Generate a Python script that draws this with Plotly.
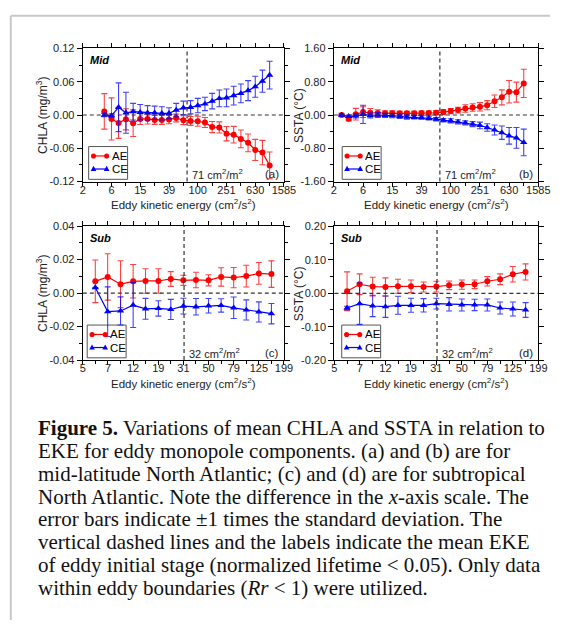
import math
import plotly.graph_objects as go

# ---------------- data ----------------
# (a) mid-latitude CHLA
eke_a = [5.0, 6.3, 7.9, 10.0, 12.6, 15.8, 20.0, 25.1, 31.6, 39.8, 50.1, 63.1, 79.4, 100.0,
         125.9, 158.5, 199.5, 251.2, 316.2, 398.1, 501.2, 631.0, 794.3, 1000.0]
chla_mid_ae = [0.0065, -0.0071, -0.0142, -0.0077, -0.0147, -0.0071, -0.0071, -0.0088, -0.0088, -0.0083,
               -0.0053, -0.0094, -0.0106, -0.0112, -0.0135, -0.0218, -0.0224, -0.0336, -0.0354, -0.0431,
               -0.0501, -0.0630, -0.0678, -0.0908]
chla_mid_ae_sd = [0.032, 0.038, 0.028, 0.019, 0.024, 0.010, 0.009, 0.008, 0.008, 0.0075, 0.007, 0.008,
                  0.008, 0.009, 0.009, 0.010, 0.010, 0.013, 0.015, 0.016, 0.016, 0.019, 0.022, 0.024]
chla_mid_ce = [0.000, -0.001, 0.014, 0.004, 0.006, 0.005, 0.004, 0.004, 0.003, 0.003, 0.009, 0.013,
               0.014, 0.017, 0.020, 0.025, 0.030, 0.031, 0.035, 0.039, 0.044, 0.051, 0.061, 0.072]
chla_mid_ce_sd = [0.003, 0.003, 0.044, 0.037, 0.015, 0.014, 0.013, 0.012, 0.012, 0.010, 0.012, 0.012,
                  0.012, 0.013, 0.012, 0.014, 0.015, 0.016, 0.017, 0.017, 0.018, 0.019, 0.020, 0.025]

# (b) mid-latitude SSTA
eke_b = [3.2, 4.0, 5.0, 6.3, 7.9, 10.0, 12.6, 15.8, 20.0, 25.1, 31.6, 39.8, 50.1, 63.1, 79.4, 100.0,
         125.9, 158.5, 199.5, 251.2, 316.2, 398.1, 501.2, 631.0, 794.3, 1000.0]
ssta_mid_ae = [0.00, -0.09, 0.02, 0.07, 0.055, 0.047, 0.04, 0.04, 0.04, 0.04, 0.04, 0.047, 0.047,
               0.055, 0.07, 0.094, 0.118, 0.157, 0.18, 0.197, 0.236, 0.33, 0.425, 0.56, 0.55, 0.76]
ssta_mid_ae_sd = [0.03, 0.05, 0.14, 0.13, 0.10, 0.08, 0.06, 0.06, 0.05, 0.05, 0.05, 0.05, 0.05,
                  0.05, 0.06, 0.06, 0.07, 0.09, 0.09, 0.10, 0.11, 0.15, 0.18, 0.27, 0.24, 0.34]
ssta_mid_ce = [0.0, -0.03, -0.02, 0.015, -0.01, 0.0, -0.01, -0.015, -0.03, -0.05, -0.055, -0.06, -0.08,
               -0.10, -0.125, -0.14, -0.165, -0.19, -0.22, -0.25, -0.30, -0.36, -0.425, -0.50, -0.55, -0.66]
ssta_mid_ce_sd = [0.02, 0.03, 0.05, 0.22, 0.06, 0.06, 0.05, 0.05, 0.05, 0.05, 0.04, 0.04, 0.04,
                  0.04, 0.04, 0.05, 0.05, 0.05, 0.06, 0.08, 0.09, 0.12, 0.16, 0.20, 0.25, 0.32]

# (c) subtropical CHLA and (d) subtropical SSTA
eke_sub = [6.3, 7.9, 10.0, 12.6, 15.8, 20.0, 25.1, 31.6, 39.8, 50.1, 63.1, 79.4, 100.0, 125.9, 158.5]
chla_sub_ae = [0.0070, 0.0096, 0.0053, 0.0070, 0.0072, 0.0072, 0.0084, 0.0076, 0.0078, 0.0076,
               0.0096, 0.0092, 0.0101, 0.0117, 0.0113]
chla_sub_ae_sd = [0.0127, 0.0138, 0.014, 0.010, 0.0073, 0.0073, 0.0044, 0.003, 0.0046, 0.0033,
                  0.0055, 0.006, 0.0065, 0.0065, 0.0079]
chla_sub_ce = [0.0033, -0.0111, -0.0107, -0.0072, -0.0094, -0.0092, -0.0098, -0.0078, -0.0082,
               -0.0076, -0.0074, -0.0088, -0.0101, -0.0113, -0.0123]
chla_sub_ce_sd = [0.0, 0.0148, 0.0084, 0.0134, 0.0062, 0.0046, 0.006, 0.0047, 0.0049, 0.0043,
                  0.004, 0.0064, 0.006, 0.006, 0.0061]
ssta_sub_ae = [0.006, 0.027, 0.020, 0.019, 0.021, 0.021, 0.019, 0.020, 0.024, 0.026, 0.027, 0.036,
               0.042, 0.057, 0.064]
ssta_sub_ae_sd = [0.058, 0.031, 0.028, 0.027, 0.021, 0.019, 0.015, 0.016, 0.013, 0.014, 0.013, 0.014,
                  0.016, 0.023, 0.024]
ssta_sub_ce = [-0.044, -0.031, -0.038, -0.040, -0.036, -0.036, -0.036, -0.031, -0.033, -0.035, -0.035,
               -0.035, -0.044, -0.047, -0.050]
ssta_sub_ce_sd = [0.005, 0.062, 0.032, 0.032, 0.027, 0.021, 0.020, 0.016, 0.020, 0.018, 0.017, 0.018,
                  0.018, 0.021, 0.022]

mean_eke_initial = [71, 32]
series_names = ["AE", "CE"]

# tick labels
mid_tick_text = ["2", "6", "15", "39", "100", "251", "630", "1585"]
sub_tick_text = ["5", "7", "12", "19", "31", "50", "79", "125", "199"]
chla_mid_ticks = ["-0.12", "-0.06", "0.00", "0.06", "0.12"]
ssta_mid_ticks = ["-1.60", "-0.80", "0.00", "0.80", "1.60"]
chla_sub_ticks = ["-0.04", "-0.02", "0.00", "0.02", "0.04"]
ssta_sub_ticks = ["-0.20", "-0.10", "0.00", "0.10", "0.20"]

# ---------------- layout helpers ----------------
W, H = 562, 626
SANS = "Liberation Sans, Arial, sans-serif"
SERIF = "Liberation Serif, Times New Roman, serif"
RED = "#ff0000"
BLUE = "#0000ff"
TXT = "#222222"


def px(x):
    return x / W


def py(y):
    return 1 - y / H


def xaxis(x0, x1, y_anchor, log_lo, log_hi, step, labels):
    n = len(labels)
    vals = [10 ** (log_lo + i * step) for i in range(n)]
    minor = [10 ** (log_lo + (i + 0.5) * step) for i in range(n - 1)]
    return dict(domain=[px(x0), px(x1)], type="log", range=[log_lo, log_hi], anchor=y_anchor,
                tickmode="array", tickvals=vals, ticktext=labels,
                ticks="outside", ticklen=4, tickwidth=1, tickcolor="black",
                showline=True, linecolor="black", linewidth=1.3, mirror="allticks",
                showgrid=False, zeroline=False, ticklabelstandoff=-6,
                minor=dict(tickvals=minor, ticks="outside", ticklen=3, tickwidth=1,
                           tickcolor="black", showgrid=False),
                tickfont=dict(family=SANS, size=11, color=TXT))


def yaxis(y0, y1, x_anchor, lim, labels):
    vals = [-lim, -lim / 2, 0, lim / 2, lim]
    minor = [-3 * lim / 4, -lim / 4, lim / 4, 3 * lim / 4]
    return dict(domain=[py(y1), py(y0)], range=[-lim, lim], anchor=x_anchor,
                tickmode="array", tickvals=vals, ticktext=labels,
                ticks="outside", ticklen=5, tickwidth=1, tickcolor="black",
                showline=True, linecolor="black", linewidth=1.3, mirror="allticks",
                showgrid=False, zeroline=False,
                minor=dict(tickvals=minor, ticks="outside", ticklen=3, tickwidth=1,
                           tickcolor="black", showgrid=False),
                tickfont=dict(family=SANS, size=11, color=TXT))


panels = [
    dict(x="x", y="y", x0=82, x1=288.7, y0=43.3, y1=179, xlo=0.4, xhi=3.2, step=0.4, xt=mid_tick_text,
         eke=eke_a, ae=chla_mid_ae, ae_sd=chla_mid_ae_sd, ce=chla_mid_ce, ce_sd=chla_mid_ce_sd,
         lim=0.12, yt=chla_mid_ticks, ytitle="CHLA (mg/m<sup>3</sup>)", region="Mid", tag="(a)",
         mean=mean_eke_initial[0], ytx=40, legx=88),
    dict(x="x2", y="y2", x0=340, x1=550, y0=43.3, y1=179, xlo=0.4, xhi=3.2, step=0.4, xt=mid_tick_text,
         eke=eke_b, ae=ssta_mid_ae, ae_sd=ssta_mid_ae_sd, ce=ssta_mid_ce, ce_sd=ssta_mid_ce_sd,
         lim=1.6, yt=ssta_mid_ticks, ytitle="SSTA (°C)", region="Mid", tag="(b)",
         mean=mean_eke_initial[0], ytx=304, legx=348.5),
    dict(x="x3", y="y3", x0=82, x1=288.7, y0=224.3, y1=361, xlo=0.7, xhi=2.3, step=0.2, xt=sub_tick_text,
         eke=eke_sub, ae=chla_sub_ae, ae_sd=chla_sub_ae_sd, ce=chla_sub_ce, ce_sd=chla_sub_ce_sd,
         lim=0.04, yt=chla_sub_ticks, ytitle="CHLA (mg/m<sup>3</sup>)", region="Sub", tag="(c)",
         mean=mean_eke_initial[1], ytx=40, legx=86.5),
    dict(x="x4", y="y4", x0=340.5, x1=550, y0=224.8, y1=361, xlo=0.7, xhi=2.3, step=0.2, xt=sub_tick_text,
         eke=eke_sub, ae=ssta_sub_ae, ae_sd=ssta_sub_ae_sd, ce=ssta_sub_ce, ce_sd=ssta_sub_ce_sd,
         lim=0.2, yt=ssta_sub_ticks, ytitle="SSTA (°C)", region="Sub", tag="(d)",
         mean=mean_eke_initial[1], ytx=304, legx=348),
]

fig = go.Figure()
layout = dict(width=W, height=H, margin=dict(l=0, r=0, t=0, b=0), autosize=False,
              paper_bgcolor="white", plot_bgcolor="white", showlegend=False)
annotations = []
shapes = []

for p in panels:
    xname = "xaxis" if p["x"] == "x" else "xaxis" + p["x"][1:]
    yname = "yaxis" if p["y"] == "y" else "yaxis" + p["y"][1:]
    layout[xname] = xaxis(p["x0"], p["x1"], p["y"], p["xlo"], p["xhi"], p["step"], p["xt"])
    layout[yname] = yaxis(p["y0"], p["y1"], p["x"], p["lim"], p["yt"])

    fig.add_trace(go.Scatter(
        x=p["eke"], y=p["ae"], xaxis=p["x"], yaxis=p["y"], name=series_names[0],
        mode="lines+markers", line=dict(color=RED, width=1.2),
        marker=dict(symbol="circle", size=6, color=RED),
        error_y=dict(type="data", array=p["ae_sd"], color="rgba(255,0,0,0.75)", thickness=1.1, width=3)))
    fig.add_trace(go.Scatter(
        x=p["eke"], y=p["ce"], xaxis=p["x"], yaxis=p["y"], name=series_names[1],
        mode="lines+markers", line=dict(color=BLUE, width=1.2),
        marker=dict(symbol="triangle-up", size=6.5, color=BLUE),
        error_y=dict(type="data", array=p["ce_sd"], color="rgba(0,0,255,0.75)", thickness=1.1, width=3)))

    # reference lines
    shapes.append(dict(type="line", xref=p["x"] + " domain", yref=p["y"], x0=0, x1=1, y0=0, y1=0,
                       line=dict(color="#333", width=1.2, dash="4px,3px"), layer="above"))
    shapes.append(dict(type="line", xref=p["x"], yref=p["y"] + " domain", x0=p["mean"], x1=p["mean"],
                       y0=0, y1=1, line=dict(color="#333", width=1.2, dash="4px,3px"), layer="above"))

    # legend key (box, sample lines with end markers, labels)
    lx0, lx1 = p["legx"], p["legx"] + 40
    ly1 = p["y1"] - 2.3
    ly0 = ly1 - 33.4
    shapes.append(dict(type="rect", xref="paper", yref="paper", x0=px(lx0), x1=px(lx1), y0=py(ly1),
                       y1=py(ly0), line=dict(color="#555", width=1), fillcolor="white", layer="below"))
    for j, (nm, col) in enumerate(zip(series_names, [RED, BLUE])):
        yc = ly0 + 9.6 + 13.3 * j
        ma, mb = lx0 + 5.0, lx0 + 18.5
        shapes.append(dict(type="line", xref="paper", yref="paper", x0=px(ma), x1=px(mb),
                           y0=py(yc), y1=py(yc), line=dict(color=col, width=1.2)))
        for mx in (ma, mb):
            if j == 0:
                shapes.append(dict(type="circle", xref="paper", yref="paper",
                                   x0=px(mx - 2.6), x1=px(mx + 2.6), y0=py(yc + 2.6), y1=py(yc - 2.6),
                                   fillcolor=col, line=dict(color=col, width=0)))
            else:
                path = "M {:.5f},{:.5f} L {:.5f},{:.5f} L {:.5f},{:.5f} Z".format(
                    px(mx), py(yc - 3.2), px(mx - 2.9), py(yc + 2.1), px(mx + 2.9), py(yc + 2.1))
                shapes.append(dict(type="path", xref="paper", yref="paper", path=path,
                                   fillcolor=col, line=dict(color=col, width=0)))
        annotations.append(dict(xref="paper", yref="paper", x=px(lx0 + 21.5), y=py(yc), text=nm,
                                showarrow=False, xanchor="left", yanchor="middle",
                                font=dict(family=SANS, size=11.5, color="black")))

    # texts
    ymid = (p["y0"] + p["y1"]) / 2
    xmid = (p["x0"] + p["x1"]) / 2
    annotations.append(dict(xref="paper", yref="paper", x=px(p["ytx"]), y=py(ymid), text=p["ytitle"],
                            textangle=-90, showarrow=False, xanchor="center", yanchor="middle",
                            font=dict(family=SANS, size=12, color=TXT)))
    annotations.append(dict(xref="paper", yref="paper", x=px(xmid), y=py(p["y1"] + 23),
                            text="Eddy kinetic energy (cm<sup>2</sup>/s<sup>2</sup>)",
                            showarrow=False, xanchor="center", yanchor="middle",
                            font=dict(family=SANS, size=11.5, color=TXT)))
    annotations.append(dict(xref="paper", yref="paper", x=px(p["x0"] + 5), y=py(p["y0"] + 12),
                            text="<b><i>" + p["region"] + "</i></b>", showarrow=False,
                            xanchor="left", yanchor="middle",
                            font=dict(family=SANS, size=11, color="black")))
    annotations.append(dict(xref="paper", yref="paper", x=px(p["x1"] - 3), y=py(p["y1"] - 7.5),
                            text=p["tag"], showarrow=False, xanchor="right", yanchor="middle",
                            font=dict(family=SANS, size=11.5, color=TXT)))
    annotations.append(dict(xref=p["x"], yref="paper", x=math.log10(p["mean"]), y=py(p["y1"] - 7.5),
                            text=f"{p['mean']} cm<sup>2</sup>/m<sup>2</sup>", showarrow=False,
                            xanchor="left", yanchor="middle", xshift=3,
                            font=dict(family=SANS, size=11, color=TXT)))

# caption
caption = [
    "<b>Figure 5.</b> Variations of mean CHLA and SSTA in relation to",
    "EKE for eddy monopole components. (a) and (b) are for",
    "mid-latitude North Atlantic; (c) and (d) are for subtropical",
    "North Atlantic. Note the difference in the <i>x</i>-axis scale. The",
    "error bars indicate ±1 times the standard deviation. The",
    "vertical dashed lines and the labels indicate the mean EKE",
    "of eddy initial stage (normalized lifetime &lt; 0.05). Only data",
    "within eddy boundaries (<i>Rr</i> &lt; 1) were utilized.",
]
for k, line in enumerate(caption):
    annotations.append(dict(xref="paper", yref="paper", x=px(34), y=py(430.5 + 23.2 * k), text=line,
                            showarrow=False, xanchor="left", yanchor="middle",
                            font=dict(family=SERIF, size=21, color="#111")))

# page border
shapes.append(dict(type="line", xref="paper", yref="paper", x0=px(8), x1=px(8), y0=0, y1=py(10),
                   line=dict(color="#c8c8c8", width=2)))
shapes.append(dict(type="line", xref="paper", yref="paper", x0=px(8), x1=1, y0=py(10), y1=py(10),
                   line=dict(color="#c8c8c8", width=2)))

layout["annotations"] = annotations
layout["shapes"] = shapes
fig.update_layout(**layout)
fig.write_html("out.html")
